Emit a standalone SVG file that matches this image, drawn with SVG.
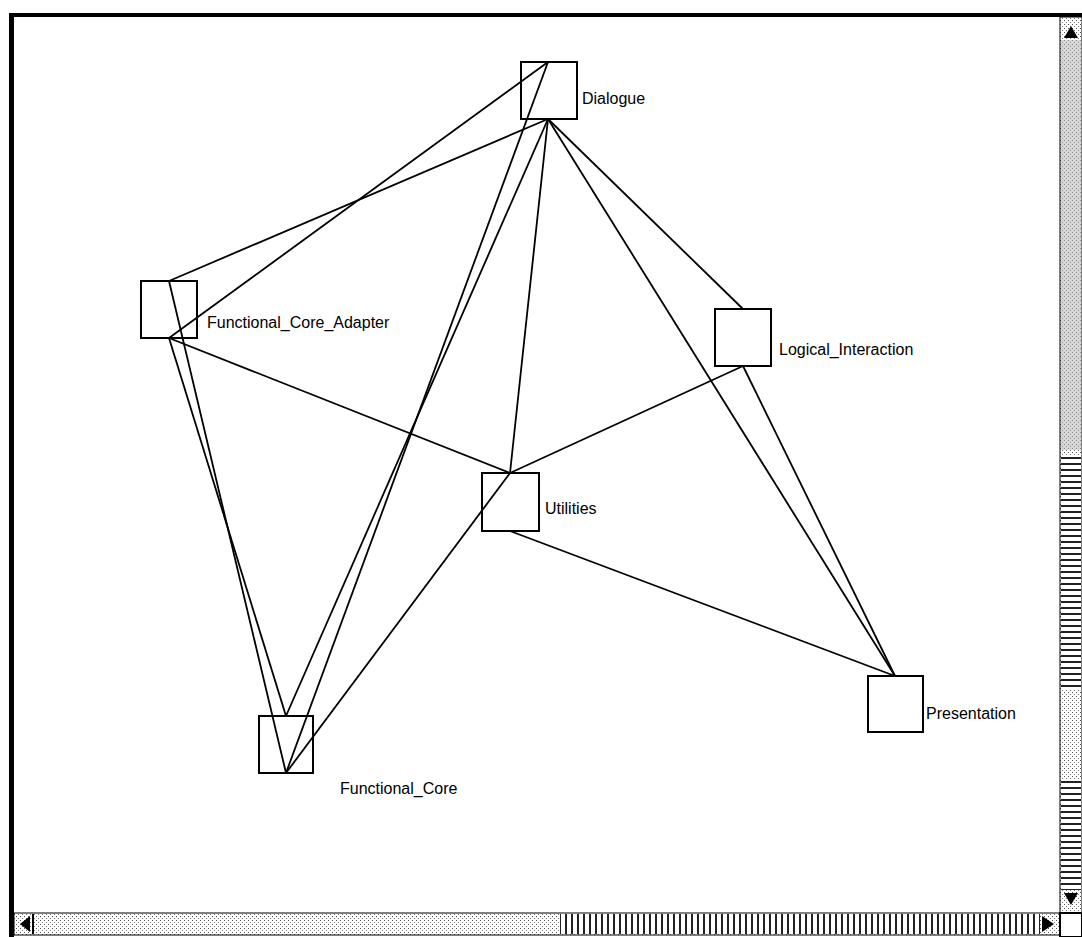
<svg xmlns="http://www.w3.org/2000/svg" width="1082" height="937" viewBox="0 0 1082 937">
<defs>
<style>
.box{fill:none;stroke:#000;stroke-width:2}
.edge{stroke:#000;stroke-width:1.8;fill:none}
.lbl{font-family:"Liberation Sans",Arial,sans-serif;font-size:16px;fill:#000}
</style>
<pattern id="vlines" width="6" height="20" patternUnits="userSpaceOnUse">
<rect width="6" height="20" fill="#fff"/>
<rect x="1" width="2" height="20" fill="#222"/>
</pattern>
<pattern id="hlines" width="20" height="6" patternUnits="userSpaceOnUse">
<rect width="20" height="6" fill="#fff"/>
<rect y="1" width="20" height="2" fill="#222"/>
</pattern>
<pattern id="stip" width="4" height="4" patternUnits="userSpaceOnUse">
<rect width="4" height="4" fill="#fff"/>
<rect x="0" y="0" width="1" height="1" fill="#555"/>
<rect x="2" y="2" width="1" height="1" fill="#777"/>
</pattern>
</defs>
<rect width="1082" height="937" fill="#fff"/>
<g id="chrome">
<rect x="9" y="13" width="1073" height="4" fill="#000"/>
<rect x="9" y="13" width="5" height="924" fill="#000"/>
<rect x="14" y="913" width="1046" height="22" fill="url(#stip)" stroke="#000" stroke-width="1"/>
<rect x="560" y="914" width="480" height="20" fill="url(#vlines)"/>
<polygon points="30,916 30,932 20,924" fill="#000"/>
<rect x="32" y="914" width="2" height="20" fill="#000"/>
<polygon points="1042,916 1042,932 1054,924" fill="#000"/>
<rect x="1060" y="17" width="22" height="898" fill="url(#stip)" stroke="#000" stroke-width="1"/>
<rect x="1061" y="40" width="20" height="410" fill="#bbb" opacity="0.6"/>
<rect x="1061" y="455" width="20" height="235" fill="url(#hlines)"/>
<rect x="1061" y="780" width="20" height="110" fill="url(#hlines)"/>
<polygon points="1071,26 1064,38 1078,38" fill="#000"/>
<polygon points="1071,905 1064,893 1078,893" fill="#000"/>
<rect x="1060" y="913" width="22" height="24" fill="#fff" stroke="#000" stroke-width="2"/>
</g>
<g id="connectors">
<line class="edge" x1="548" y1="62" x2="169" y2="338"/>
<line class="edge" x1="548" y1="119" x2="169" y2="281"/>
<line class="edge" x1="548" y1="62" x2="286" y2="773"/>
<line class="edge" x1="548" y1="119" x2="286" y2="716"/>
<line class="edge" x1="548" y1="119" x2="510" y2="473"/>
<line class="edge" x1="548" y1="119" x2="743" y2="309"/>
<line class="edge" x1="548" y1="119" x2="895" y2="676"/>
<line class="edge" x1="169" y1="281" x2="286" y2="773"/>
<line class="edge" x1="169" y1="338" x2="286" y2="716"/>
<line class="edge" x1="169" y1="338" x2="510" y2="473"/>
<line class="edge" x1="743" y1="366" x2="510" y2="473"/>
<line class="edge" x1="743" y1="366" x2="895" y2="676"/>
<line class="edge" x1="510" y1="473" x2="286" y2="773"/>
<line class="edge" x1="510" y1="531" x2="895" y2="676"/>
</g>
<g id="node-dialogue">
<rect class="box" x="521" y="62" width="56" height="57"/>
<text class="lbl" x="582" y="104">Dialogue</text>
</g>
<g id="node-fca">
<rect class="box" x="141" y="281" width="56" height="57"/>
<text class="lbl" x="207" y="328">Functional_Core_Adapter</text>
</g>
<g id="node-logical">
<rect class="box" x="715" y="309" width="56" height="57"/>
<text class="lbl" x="779" y="355">Logical_Interaction</text>
</g>
<g id="node-utilities">
<rect class="box" x="482" y="473" width="57" height="58"/>
<text class="lbl" x="545" y="514">Utilities</text>
</g>
<g id="node-fc">
<rect class="box" x="259" y="716" width="54" height="57"/>
<text class="lbl" x="340" y="794">Functional_Core</text>
</g>
<g id="node-presentation">
<rect class="box" x="868" y="676" width="55" height="56"/>
<text class="lbl" x="926" y="719">Presentation</text>
</g>
</svg>
